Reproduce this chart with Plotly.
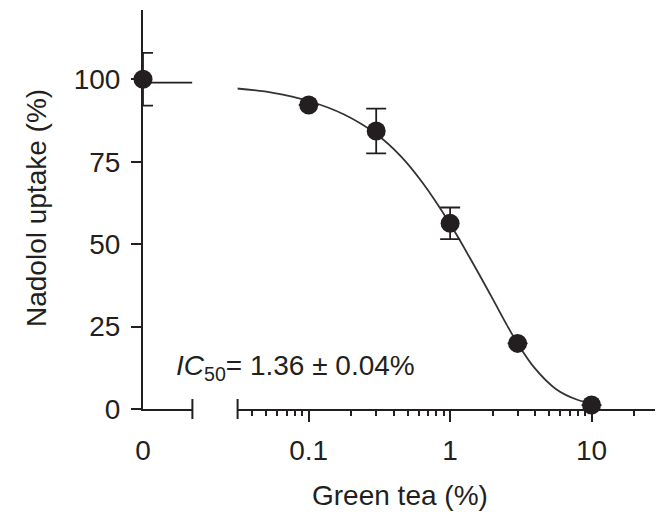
import math
import plotly.graph_objects as go

# ---------------- data ----------------
zero_conc = [0]
zero_uptake = [100]
zero_err = [8]
zero_fit_level = 99          # fitted curve level at 0 % green tea

conc = [0.1, 0.3, 1, 3, 10]
uptake = [92.2, 84.3, 56.3, 19.9, 1.2]
uptake_err = [0, 6.8, 4.8, 0, 0]

# fitted curve
curve_conc = [0.031, 0.056, 0.1, 0.178, 0.3, 0.447, 0.631, 1.0, 1.41, 2.0, 2.51, 3.0, 3.98, 5.62, 7.94, 10]
curve_uptake = [97.2, 95.9, 93.4, 89.3, 83.4, 76.7, 68.9, 56.1, 45.1, 33.4, 25.6, 19.9, 12.3, 6.0, 2.8, 1.8]

y_ticks = [0, 25, 50, 75, 100]
x_major = [0.1, 1, 10]
x_major_labels = ["0.1", "1", "10"]
x_minor = [0.04, 0.05, 0.06, 0.07, 0.08, 0.09,
           0.2, 0.3, 0.4, 0.5, 0.6, 0.7, 0.8, 0.9,
           2, 3, 4, 5, 6, 7, 8, 9, 20]

# ---------------- style ----------------
FONT = "Liberation Sans, Arial, sans-serif"
C = "#231f20"
TICK_FS = 28
TITLE_FS = 28

# the page body has an 8 px margin: work in reference pixels, shift by 8
OFF = 8
W, H = 663 - OFF, 518 - OFF
plot_left, plot_right, plot_top, plot_bottom = 143, 660, 10, 409
ML = plot_left - OFF
MT = plot_top - OFF
MR = W - (plot_right - OFF)
MB = H - (plot_bottom - OFF)
pw = W - ML - MR
ph = H - MT - MB

left_end = (192.4 - plot_left) / pw
right_start = (237.6 - plot_left) / pw


def px_x(p):
    return (p - plot_left) / pw


def px_y(p):
    return (plot_bottom - p) / ph


fig = go.Figure()

# left segment (0 %)
fig.add_trace(go.Scatter(
    x=[0, 1], y=[zero_fit_level, zero_fit_level], xaxis="x", yaxis="y",
    mode="lines", line=dict(color=C, width=1.8), cliponaxis=False, hoverinfo="skip"))
fig.add_trace(go.Scatter(
    x=zero_conc, y=zero_uptake, xaxis="x", yaxis="y", mode="markers",
    marker=dict(size=19, color=C),
    error_y=dict(type="data", array=zero_err, width=10, thickness=1.8, color=C),
    cliponaxis=False))

# right segment (log)
fig.add_trace(go.Scatter(
    x=curve_conc, y=curve_uptake, xaxis="x2", yaxis="y", mode="lines",
    line=dict(color="#333333", width=1.8, shape="spline", smoothing=1),
    cliponaxis=False, hoverinfo="skip"))
fig.add_trace(go.Scatter(
    x=conc, y=uptake, xaxis="x2", yaxis="y", mode="markers",
    marker=dict(size=19, color=C),
    error_y=dict(type="data", array=uptake_err, width=10, thickness=1.8, color=C),
    cliponaxis=False))

axis_common = dict(showline=True, linecolor=C, linewidth=2, showgrid=False,
                   zeroline=False, tickfont=dict(family=FONT, size=TICK_FS, color=C),
                   layer="below traces")

fig.update_layout(
    width=W, height=H,
    margin=dict(l=ML, r=MR, t=MT, b=MB, autoexpand=False),
    paper_bgcolor="white", plot_bgcolor="white",
    showlegend=False,
    font=dict(family=FONT, color=C),
    xaxis=dict(domain=[0, left_end], range=[0, 1], anchor="y",
               tickmode="array", tickvals=[0], ticktext=["0"],
               ticks="outside", ticklen=11, tickcolor="rgba(0,0,0,0)",
               ticklabelstandoff=4,
               **axis_common),
    xaxis2=dict(domain=[right_start, 1], type="log",
                range=[math.log10(0.0314), math.log10(30.5)], anchor="y",
                tickmode="array", tickvals=x_major, ticktext=x_major_labels,
                ticks="outside", ticklen=11, tickwidth=2, tickcolor=C,
                ticklabelstandoff=4,
                minor=dict(tickmode="array", tickvals=x_minor, ticks="outside",
                           ticklen=5, tickwidth=1.5, tickcolor=C, showgrid=False),
                **axis_common),
    yaxis=dict(range=[0, 121], anchor="x",
               tickmode="array", tickvals=y_ticks,
               ticks="outside", ticklen=10, tickwidth=2, tickcolor=C,
               ticklabelstandoff=5,
               **axis_common),
)

brk = 10 / ph
fig.add_shape(type="line", xref="paper", yref="paper", x0=left_end, x1=left_end,
              y0=-brk, y1=brk, line=dict(color=C, width=2))
fig.add_shape(type="line", xref="paper", yref="paper", x0=right_start, x1=right_start,
              y0=-brk, y1=brk, line=dict(color=C, width=2))

fig.add_annotation(text="Nadolol uptake (%)", xref="paper", yref="paper",
                   x=px_x(36), y=px_y(208), textangle=-90, showarrow=False,
                   xanchor="center", yanchor="middle",
                   font=dict(family=FONT, size=TITLE_FS, color=C))
fig.add_annotation(text="Green tea (%)", xref="paper", yref="paper",
                   x=px_x(400), y=px_y(495), showarrow=False,
                   xanchor="center", yanchor="middle",
                   font=dict(family=FONT, size=TITLE_FS, color=C))
fig.add_annotation(text="<i>IC</i><sub>50</sub>= 1.36 ± 0.04%", xref="paper", yref="paper",
                   x=px_x(174), y=px_y(367), showarrow=False,
                   xanchor="left", yanchor="middle",
                   font=dict(family=FONT, size=TITLE_FS, color=C))

fig.write_html("out.html")
